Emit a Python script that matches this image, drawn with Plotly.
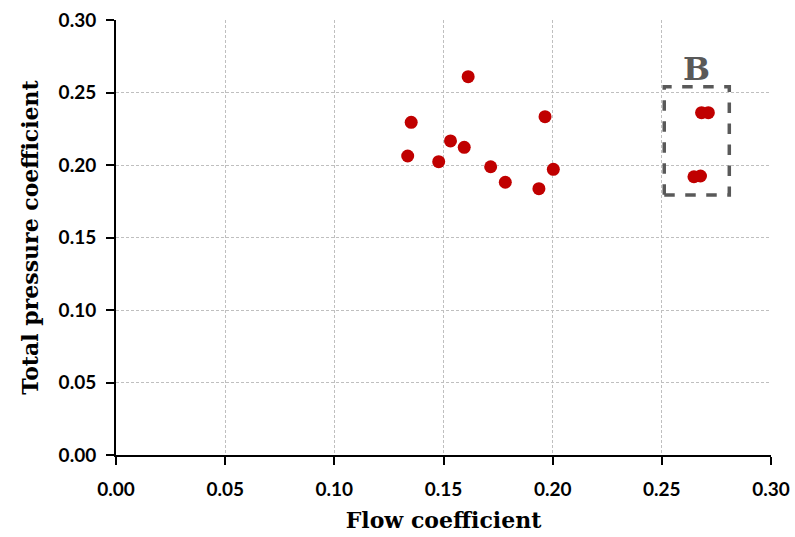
import plotly.graph_objects as go

flow_coef = [0.1613, 0.1352, 0.1965, 0.1532, 0.1595, 0.1336, 0.1478, 0.1716, 0.2003, 0.1783, 0.1937,
             0.2682, 0.2713, 0.2647, 0.2677]
pressure_coef = [0.2609, 0.2294, 0.2333, 0.2166, 0.2122, 0.2062, 0.2023, 0.1988, 0.1970, 0.1881, 0.1837,
                 0.2361, 0.2361, 0.1919, 0.1924]
tick_vals = [0.00, 0.05, 0.10, 0.15, 0.20, 0.25, 0.30]
tick_text = ["0.00", "0.05", "0.10", "0.15", "0.20", "0.25", "0.30"]
box_b = dict(x0=0.2511, x1=0.2809, y0=0.1793, y1=0.2540)
box_label = "B"

fig = go.Figure()
fig.add_trace(go.Scatter(
    x=flow_coef, y=pressure_coef, mode="markers",
    marker=dict(color="#C00000", size=13, line=dict(width=0)),
    showlegend=False, cliponaxis=False,
))

fig.add_shape(type="rect", xref="x", yref="y", **box_b,
              line=dict(color="#595959", width=3.5, dash="dash"))
fig.add_annotation(x=(box_b["x0"] + box_b["x1"]) / 2, y=box_b["y1"], text=f"<b>{box_label}</b>",
                   showarrow=False, yanchor="bottom", yshift=-3,
                   font=dict(family="DejaVu Serif", size=32, color="#595959"))

tickfont = dict(family="Lato", size=19, color="black", weight="bold")
titlefont = dict(family="DejaVu Serif", size=22, color="black")
axis_common = dict(
    range=[0, 0.30], tickvals=tick_vals, ticktext=tick_text, tickfont=tickfont,
    showline=True, linecolor="black", linewidth=2,
    ticks="outside", ticklen=8, tickwidth=2, tickcolor="black",
    showgrid=True, gridcolor="#BFBFBF", griddash="3px,2px", gridwidth=1,
    zeroline=False, automargin=False,
)
fig.update_xaxes(**axis_common, ticklabelstandoff=8,
                 title=dict(text="<b>Flow coefficient</b>", font=titlefont, standoff=14))
fig.update_yaxes(**axis_common, ticklabelstandoff=6,
                 title=dict(text="<b>Total pressure coefficient</b>", font=titlefont, standoff=14))

fig.update_layout(
    width=795, height=537,
    margin=dict(l=116, r=24, t=20, b=82),
    plot_bgcolor="white", paper_bgcolor="white",
)
fig.write_html("out.html")
